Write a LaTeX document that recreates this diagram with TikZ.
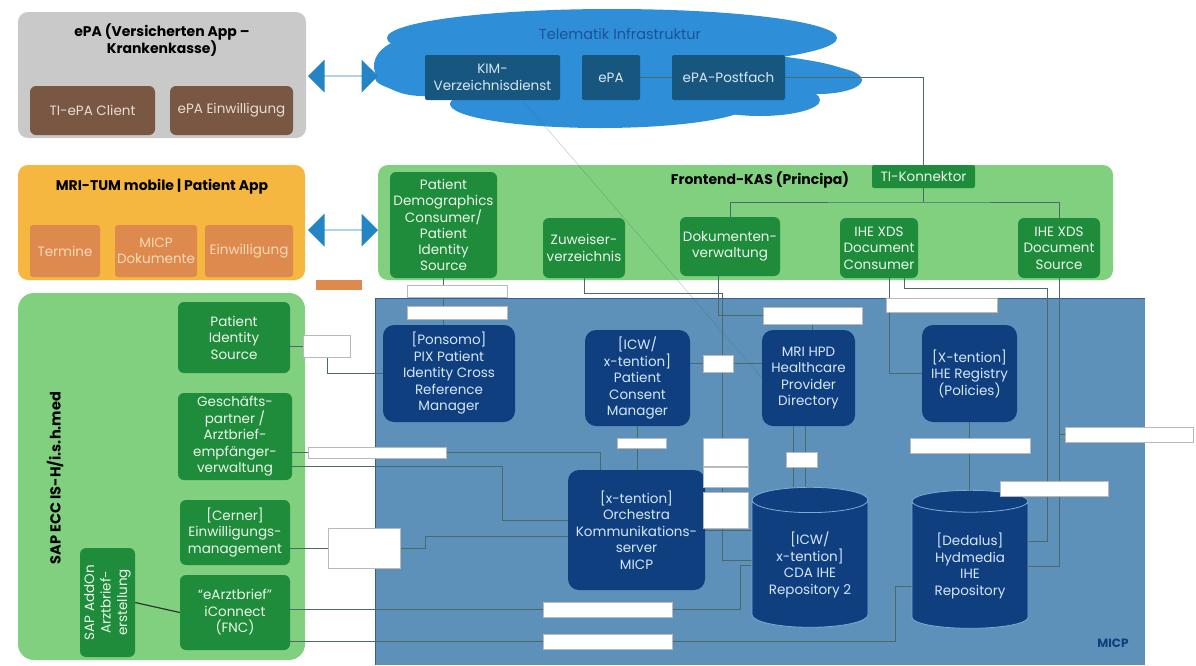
\documentclass[tikz,border=0pt]{standalone}
\usepackage{fontspec}
\setmainfont{Poppins}
\usetikzlibrary{shapes.geometric,shapes.arrows}
\pgfdeclarelayer{panels}
\pgfdeclarelayer{lines}
\pgfsetlayers{panels,lines,main}
\definecolor{cgray}{HTML}{C9C9C9}
\definecolor{cbrown}{HTML}{7A5742}
\definecolor{cbrowntext}{HTML}{E6DDD5}
\definecolor{carrow}{HTML}{2485C4}
\definecolor{ccloud}{HTML}{2E8FD8}
\definecolor{ccloudbox}{HTML}{17567F}
\definecolor{ccloudtext}{HTML}{D9E6F2}
\definecolor{ccloudtitle}{HTML}{1A5496}
\definecolor{corange}{HTML}{F5B73F}
\definecolor{corangebox}{HTML}{DE8A4E}
\definecolor{corangetext}{HTML}{F8D9B8}
\definecolor{cgreen}{HTML}{80D080}
\definecolor{cgreenbox}{HTML}{1F8C3C}
\definecolor{cgreentext}{HTML}{EAF7EA}
\definecolor{cmicp}{HTML}{5D91BA}
\definecolor{cmicpedge}{HTML}{3A5F86}
\definecolor{cnavy}{HTML}{0F3F7E}
\definecolor{cnavytext}{HTML}{D5E6FA}
\definecolor{crim}{HTML}{7FA9D6}
\definecolor{cconn}{HTML}{4A6A6A}
\newcommand\nodefnt{\fontsize{13.5}{16.5}\selectfont}
\newcommand\titlefnt{\bfseries\fontsize{14}{17}\selectfont}
\begin{document}
\begin{tikzpicture}[x=1pt,y=-1pt,
  panel/.style={rounded corners=10pt, inner sep=0pt},
  box/.style={rounded corners=6pt, align=center, inner sep=1pt, font=\nodefnt},
  brbox/.style={box, fill=cbrown, text=cbrowntext},
  clbox/.style={box, rounded corners=2pt, fill=ccloudbox, text=ccloudtext},
  orbox/.style={box, rounded corners=3pt, fill=corangebox, text=corangetext},
  grbox/.style={box, fill=cgreenbox, text=cgreentext},
  nvbox/.style={box, rounded corners=11pt, fill=cnavy, text=cnavytext},
  cyl/.style={cylinder, shape border rotate=90, aspect=0.3, fill=cnavy, draw=crim,
     line width=0.8pt, text=cnavytext, align=center, font=\nodefnt, inner sep=1pt},
  ttl/.style={font=\titlefnt, align=center, text=black},
  lbl/.style={fill=white, draw=gray!55, line width=0.4pt, inner sep=0pt},
  cn/.style={draw=cconn, line width=0.5pt},
  dbl/.style={double arrow, fill=carrow, minimum height=70, minimum width=33,
     double arrow head extend=7pt, inner sep=0pt}
]
\useasboundingbox (0,0) rectangle (1196,665);

% ---------------- panels ----------------
\begin{pgfonlayer}{panels}
\fill[white] (0,0) rectangle (1196,665);
\node[panel, fill=cgray, minimum width=288, minimum height=126] (epapanel) at (162,75) {};
\node[panel, fill=corange, minimum width=287, minimum height=115] (mripanel) at (161.5,222.5) {};
\node[panel, fill=cgreen, minimum width=735, minimum height=115] (kaspanel) at (745.5,222.5) {};
\node[panel, rounded corners=16pt, fill=cgreen, minimum width=287, minimum height=367] (sappanel) at (161.5,476.5) {};
\fill[cmicp] (375,298) rectangle (1145,665);
\draw[cmicpedge, line width=1pt] (375,665) -- (375,298) -- (1145,298);
% cloud
\fill[ccloud] (612,38) ellipse [x radius=225, y radius=29];
\fill[ccloud] (615,78) ellipse [x radius=240, y radius=30];
\fill[ccloud] (600,104) ellipse [x radius=150, y radius=24];
\fill[ccloud] (818,80) ellipse [x radius=44, y radius=14];
\fill[ccloud] (422,66) ellipse [x radius=48, y radius=30];
\fill[ccloud] (760,100) ellipse [x radius=60, y radius=16];
\end{pgfonlayer}

% ---------------- titles ----------------
\node[ttl] (epatitle) at (162,40) {ePA (Versicherten App –\\Krankenkasse)};
\node[ttl] (mrititle) at (162,187) {MRI-TUM mobile | Patient App};
\node[ttl] (kastitle) at (760,180) {Frontend-KAS (Principa)};
\node[ttl, rotate=90, font=\bfseries\fontsize{14.5}{17}\selectfont] (saptitle) at (55,478) {SAP ECC IS-H/i.s.h.med};
\node[font=\fontsize{14.5}{17}\selectfont, text=ccloudtitle] (cloudtitle) at (620,34) {Telematik Infrastruktur};
\node[font=\bfseries\fontsize{12}{14}\selectfont, text=cnavy] (micptitle) at (1113,643) {MICP};

% ---------------- top-left / cloud ----------------
\node[brbox, minimum width=125, minimum height=49] (tiepa) at (92.5,110.5) {TI-ePA Client};
\node[brbox, minimum width=123, minimum height=49] (epaein) at (231.5,110.5) {ePA Einwilligung};
\node[dbl] (arrow1) at (343,76) {};
\node[clbox, minimum width=135, minimum height=45] (kim) at (492.5,77.5) {KIM-\\Verzeichnisdienst};
\node[clbox, minimum width=58, minimum height=45] (epa) at (611,77.5) {ePA};
\node[clbox, minimum width=113, minimum height=45] (postf) at (728.5,77.5) {ePA-Postfach};

% ---------------- MRI-TUM app ----------------
\node[orbox, minimum width=70, minimum height=52] (termine) at (65,251) {Termine};
\node[orbox, minimum width=82, minimum height=52] (micpdok) at (156,251) {MICP\\Dokumente};
\node[orbox, minimum width=88, minimum height=52] (einw) at (249,251) {Einwilligung};
\node[fill=corangebox, minimum width=46, minimum height=10, inner sep=0pt] (orlbl) at (339,285) {};
\node[dbl] (arrow2) at (343,230) {};

% ---------------- Frontend-KAS ----------------
\node[grbox, rounded corners=2pt, minimum width=103, minimum height=23] (tik) at (923.5,176.5) {TI-Konnektor};
\node[grbox, minimum width=107, minimum height=106, font=\fontsize{13.5}{16}\selectfont] (pdc) at (443.5,225) {Patient\\Demographics\\Consumer/\\Patient\\Identity\\Source};
\node[grbox, minimum width=82, minimum height=60] (zuw) at (584,248) {Zuweiser-\\verzeichnis};
\node[grbox, minimum width=100, minimum height=59] (dok) at (730,246.5) {Dokumenten-\\verwaltung};
\node[grbox, minimum width=78, minimum height=60] (con) at (879,248) {IHE XDS\\Document\\Consumer};
\node[grbox, minimum width=82, minimum height=60] (src) at (1059,248) {IHE XDS\\Document\\Source};

% ---------------- SAP ----------------
\node[grbox, minimum width=112, minimum height=71] (sappis) at (234,337.5) {Patient\\Identity\\Source};
\node[grbox, minimum width=114, minimum height=87] (gp) at (235,436.5) {Geschäfts-\\partner /\\Arztbrief-\\empfänger-\\verwaltung};
\node[grbox, minimum width=110, minimum height=65] (cerner) at (235,532.5) {[Cerner]\\Einwilligungs-\\management};
\node[grbox, minimum width=110, minimum height=75] (earzt) at (235,612.5) {“eArztbrief”\\iConnect\\(FNC)};
\node[grbox, rotate=90, minimum width=109, minimum height=55] (addon) at (107.5,602.5) {SAP AddOn\\Arztbrief-\\erstellung};

% ---------------- MICP ----------------
\node[nvbox, minimum width=132, minimum height=97] (pix) at (449,373.5) {[Ponsomo]\\PIX Patient\\Identity Cross\\Reference\\Manager};
\node[nvbox, minimum width=105, minimum height=96] (pcm) at (637.5,378) {[ICW/\\x-tention]\\Patient\\Consent\\Manager};
\node[nvbox, minimum width=93, minimum height=96] (hpd) at (808.5,378) {MRI HPD\\Healthcare\\Provider\\Directory};
\node[nvbox, minimum width=95, minimum height=97] (reg) at (969.5,373.5) {[X-tention]\\IHE Registry\\(Policies)};
\node[nvbox, minimum width=137, minimum height=120] (orch) at (636.5,530) {[x-tention]\\Orchestra\\Kommunikations-\\server\\MICP};
\node[cyl, minimum width=116, minimum height=140] (cda) at (810,565) {[ICW/\\x-tention]\\CDA IHE\\Repository 2};
\node[cyl, minimum width=116, minimum height=138] (hyd) at (970,566) {[Dedalus]\\Hydmedia\\IHE\\Repository};

% ---------------- small labels ----------------
\node[lbl, minimum width=47, minimum height=22] (l1) at (327,346) {};
\node[lbl, minimum width=138, minimum height=11] (l2) at (377,452.5) {};
\node[lbl, minimum width=72, minimum height=40] (l3) at (364,548) {};
\node[lbl, minimum width=129, minimum height=15] (l4) at (607.5,609.5) {};
\node[lbl, minimum width=129, minimum height=15] (l5) at (607.5,641.5) {};
\node[lbl, minimum width=100, minimum height=12] (l6) at (457,291) {};
\node[lbl, minimum width=100, minimum height=13] (l7) at (457,313) {};
\node[lbl, minimum width=99, minimum height=17] (l8) at (812.5,315.5) {};
\node[lbl, minimum width=49, minimum height=10] (l9) at (642,443) {};
\node[lbl, minimum width=30, minimum height=17] (l10) at (718,363.5) {};
\node[lbl, minimum width=111, minimum height=14] (l11) at (942,305) {};
\node[lbl, minimum width=128, minimum height=15] (l12) at (1129,434.5) {};
\node[lbl, minimum width=108, minimum height=15] (l13) at (1054,488.5) {};
\node[lbl, minimum width=120, minimum height=15] (l14) at (970,445.5) {};
\node[lbl, minimum width=31, minimum height=15] (l15) at (802,460) {};
\node[lbl, minimum width=45, minimum height=28] (s1) at (725.5,452) {};
\node[lbl, minimum width=45, minimum height=20] (s2) at (725.5,477) {};
\node[lbl, minimum width=45, minimum height=36] (s3) at (725.5,510) {};

% ---------------- coordinates ----------------
\coordinate (tj) at (923.5,202);
\coordinate (z1) at (722,293);
\coordinate (g2) at (502,466);
\coordinate (cs1) at (1047,288);
\coordinate (e1) at (740,609.5);
\coordinate (e2) at (895,641.5);

% ---------------- connectors ----------------
\begin{pgfonlayer}{lines}
\draw[cn] (epa) -- (postf);
\draw[cn] (postf.east) -| (tik.north);
\draw[cn] (tik.south) -- (tj);
\draw[cn] (dok.north) |- (tj) -| (src.north);
\draw[cn] (pdc.south) -- (pdc.south|-pix.north);
\draw[cn] (sappis.east|-l1.west) -- (l1.west);
\draw[cn] (l1.south) |- (pix.west);
\draw[cn] (gp.east|-l2.west) -- (l2.west);
\draw[cn] (l2.east) -| ([xshift=-36.5pt]orch.north);
\draw[cn] ([yshift=-29.5pt]gp.east) -- (g2) |- ([yshift=10pt]orch.west);
\draw[cn] (cerner.east|-l3.west) -- (l3.west);
\draw[cn] (l3.east) -- ++(25,0) |- ([yshift=-6pt]orch.west);
\draw[cn] (earzt.east|-l4.west) -- (l4.west);
\draw[cn] (l4.east) -- (e1) |- (cda.west);
\draw[cn] (earzt.east|-l5.west) -- (l5.west);
\draw[cn] (l5.east) -- (e2) |- ([yshift=-20pt]hyd.west);
\draw[line width=1.2pt, black!80] (addon.south) -- (earzt.west);
\draw[cn] (pcm.east|-l10.west) -- (l10.west);
\draw[cn] (l10.east) -- (hpd.west|-l10.east);
\draw[cn] ([xshift=-12pt]dok.south) |- (l8.west);
\draw[cn] (l8.south) -- (l8.south|-hpd.north);
\draw[cn] ([xshift=10pt]con.south) |- (reg.west);
\draw[cn] ([xshift=25pt]con.south) |- (cs1) |- ([yshift=25pt]hyd.east);
\draw[cn] (src.south) |- (hyd.east);
\draw[cn] (src.south|-l12.west) -- (l12.west);
\draw[cn] (reg.south) -- (reg.south|-hyd.north);
\draw[cn] ([xshift=-15pt]hpd.south) -- ([xshift=-15pt]hpd.south|-cda.north);
\draw[cn] ([xshift=-3pt]hpd.south) -- ([xshift=-3pt]hpd.south|-cda.north);
\draw[cn] (zuw.south) |- (z1) |- ([yshift=5pt]cda.west);
\draw[cn] (orch.east) -- (cda.west|-orch.east);
\draw[cn] (pcm.south) -- (pcm.south|-orch.north);
\draw[cn, opacity=0.35] ([xshift=30pt]kim.south) -- (hpd.west);
\end{pgfonlayer}
\end{tikzpicture}
\end{document}
